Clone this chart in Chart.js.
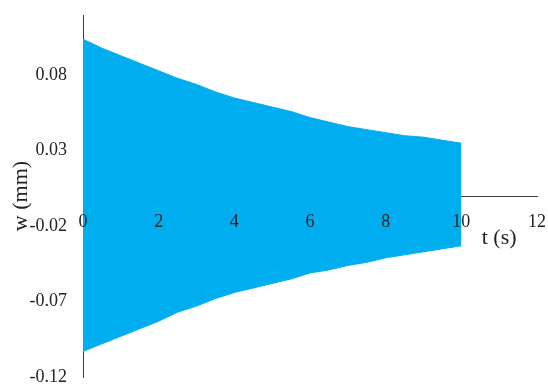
<!DOCTYPE html>
<html>
<head>
<meta charset="utf-8">
<script src="https://cdn.jsdelivr.net/npm/chart.js@4"></script>
<style>
  html, body { margin: 0; padding: 0; background: #fff; }
  #wrap { width: 548px; height: 385px; position: relative; }
</style>
</head>
<body>
<div id="wrap"><canvas id="chart"></canvas></div>
<script>
// envelope of the damped response
const times = [0, 0.5, 1, 1.5, 2, 2.5, 3, 3.5, 4, 4.5, 5, 5.5, 6, 6.5, 7, 7.5, 8, 8.5, 9, 9.5, 10];
const upper = [0.104, 0.098, 0.093, 0.088, 0.083, 0.078, 0.074, 0.069, 0.065, 0.062, 0.059,
  0.056, 0.052, 0.049, 0.046, 0.044, 0.042, 0.040, 0.039, 0.037, 0.035];
const lower = [-0.103, -0.098, -0.093, -0.088, -0.083, -0.077, -0.073, -0.068, -0.064, -0.061, -0.058,
  -0.055, -0.051, -0.049, -0.046, -0.044, -0.041, -0.039, -0.037, -0.035, -0.033];
const yTicks = [0.08, 0.03, -0.02, -0.07, -0.12];
const xTicks = [0, 2, 4, 6, 8, 10, 12];

const blue = "rgb(0, 174, 239)";
const axisColor = "#3a3a3a";
const serif = "'Liberation Serif', 'Times New Roman', serif";

const xTitle = {
  id: "xTitle",
  afterDraw(chart) {
    const { ctx, scales } = chart;
    const y0 = scales.y.getPixelForValue(0);
    ctx.save();
    ctx.font = "22px " + serif;
    ctx.fillStyle = "#222";
    ctx.textAlign = "center";
    ctx.textBaseline = "middle";
    ctx.fillText("t (s)", scales.x.getPixelForValue(11.0), y0 + 42);
    ctx.restore();
  },
};

new Chart(document.getElementById("chart"), {
  type: "line",
  data: {
    datasets: [
      {
        data: times.map((t, i) => ({ x: t, y: upper[i] })),
        borderColor: blue,
        borderWidth: 1,
        backgroundColor: blue,
        pointRadius: 0,
        fill: "+1",
      },
      {
        data: times.map((t, i) => ({ x: t, y: lower[i] })),
        borderColor: blue,
        borderWidth: 1,
        pointRadius: 0,
        fill: false,
      },
    ],
  },
  options: {
    responsive: true,
    maintainAspectRatio: false,
    animation: false,
    layout: { padding: { top: 15, right: 11, bottom: 8, left: 0 } },
    plugins: { legend: { display: false }, tooltip: { enabled: false } },
    scales: {
      x: {
        type: "linear",
        position: { y: 0 },
        min: 0,
        max: 12,
        afterBuildTicks: (scale) => {
          scale.ticks = xTicks.map((v) => ({ value: v }));
        },
        afterFit: (scale) => {
          scale.paddingLeft = 0;
          scale.paddingRight = 0;
        },
        grid: { display: false, drawTicks: false },
        border: { display: true, color: axisColor, width: 1 },
        ticks: { z: 1, color: "#222", font: { family: serif, size: 18 }, padding: 15, maxRotation: 0 },
      },
      y: {
        min: -0.12,
        max: 0.12,
        afterBuildTicks: (scale) => {
          scale.ticks = yTicks.map((v) => ({ value: v }));
        },
        afterFit: (scale) => {
          scale.width = 83;
          scale.paddingTop = 0;
          scale.paddingBottom = 0;
        },
        grid: { display: false, drawTicks: false },
        border: { display: true, color: axisColor, width: 1 },
        ticks: {
          color: "#222",
          font: { family: serif, size: 18 },
          padding: 16,
          callback: (v) => v.toFixed(2),
        },
        title: {
          display: true,
          text: "w (mm)",
          color: "#222",
          font: { family: serif, size: 22 },
          padding: { top: 8, bottom: 0 },
        },
      },
    },
  },
  plugins: [xTitle],
});
</script>
</body>
</html>
